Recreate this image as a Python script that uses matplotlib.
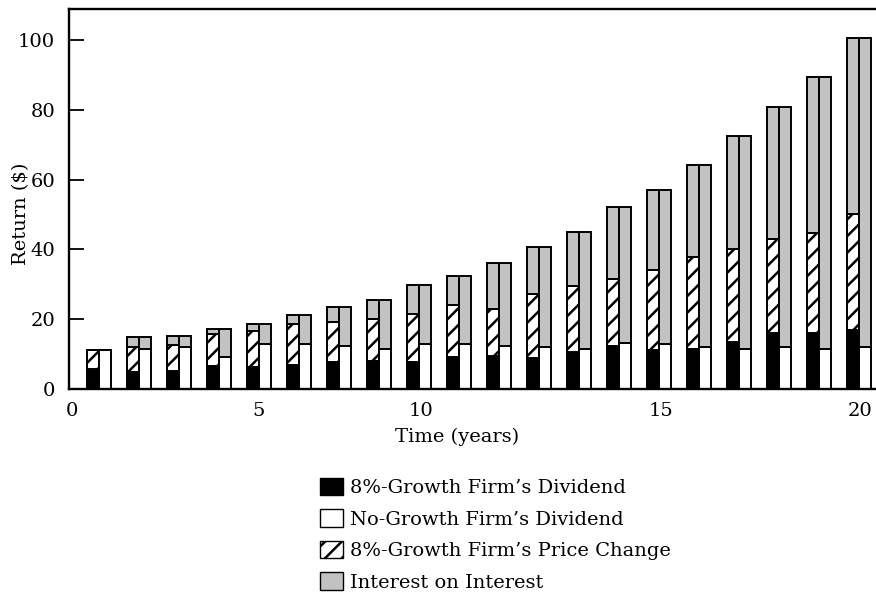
import matplotlib
matplotlib.use("Agg")
import matplotlib.pyplot as plt
from matplotlib.patches import Patch
import numpy as np

# ---- data ----
years = list(range(1, 21))
growth_dividend = [5.6, 4.9, 5.1, 6.6, 6.2, 7.0, 7.6, 8.1, 7.8, 9.2,
                   9.6, 8.8, 10.7, 12.3, 11.1, 11.5, 13.5, 16.1, 16.1, 16.9]
growth_price_change = [5.7, 7.2, 7.6, 9.2, 10.5, 11.6, 11.6, 12.1, 13.6, 15.0,
                       13.2, 18.5, 18.8, 19.3, 23.1, 26.3, 26.7, 26.9, 28.7, 33.3]
nogrowth_dividend = [11.3, 11.4, 12.1, 9.2, 12.8, 12.8, 12.4, 11.4, 12.8, 12.8,
                     12.4, 11.9, 11.4, 13.2, 12.8, 12.1, 11.5, 12.1, 11.5, 12.1]
total_return = [11.3, 14.8, 15.2, 17.3, 18.6, 21.2, 23.5, 25.4, 29.7, 32.4,
                36.2, 40.7, 44.9, 52.2, 57.1, 64.2, 72.4, 80.9, 89.5, 100.7]
y_ticks = [0, 20, 40, 60, 80, 100]
x_tick_labels = ["0", "5", "10", "15", "20"]
x_tick_pos = [0.33, 5, 9.05, 15.05, 20.02]
legend_labels = ["8%-Growth Firm\u2019s Dividend", "No-Growth Firm\u2019s Dividend",
                 "8%-Growth Firm\u2019s Price Change", "Interest on Interest"]

plt.rcParams['font.family'] = ['DejaVu Serif']
plt.rcParams['hatch.linewidth'] = 1.8

FS = 14
fig = plt.figure(figsize=(8.76, 5.94), dpi=100)
ax = fig.add_axes([69/876, 1 - 389/594, 807/876, 380/594])

x = np.array(years, dtype=float)
gd = np.array(growth_dividend)
gp = np.array(growth_price_change)
nd = np.array(nogrowth_dividend)
tot = np.array(total_return)

w = 0.3
gray = '#c2c2c2'
lw = 1.4
xl = x - w / 2
xr = x + w / 2
# left bar: growth firm
ax.bar(xl, gd, width=w, color='black', edgecolor='black', linewidth=lw)
ax.bar(xl, gp, width=w, bottom=gd, color='white', edgecolor='black', hatch='//', linewidth=lw)
ax.bar(xl, tot - gd - gp, width=w, bottom=gd + gp, color=gray, edgecolor='black', linewidth=lw)
# right bar: no-growth firm
ax.bar(xr, nd, width=w, color='white', edgecolor='black', linewidth=lw)
ax.bar(xr, tot - nd, width=w, bottom=nd, color=gray, edgecolor='black', linewidth=lw)

ax.set_xlim(0.25, 20.425)
ax.set_ylim(0, 108.9)
ax.set_yticks(y_ticks)
ax.set_yticklabels([str(t) for t in y_ticks], fontsize=FS)
ax.set_xticks(x_tick_pos)
ax.set_xticklabels(x_tick_labels, fontsize=FS)
ax.tick_params(axis='y', direction='in', length=11, width=1.3, pad=10)
ax.tick_params(axis='x', length=0, pad=9)
for s in ['left', 'bottom', 'top']:
    ax.spines[s].set_linewidth(1.7)
ax.spines['right'].set_visible(False)

ax.set_xlabel("Time (years)", fontsize=FS)
ax.xaxis.set_label_coords(0.481, -0.103)
ax.xaxis.label.set_verticalalignment('top')
ax.set_ylabel("Return ($)", fontsize=FS)
ax.yaxis.set_label_coords(-0.048, 0.46)

handles = [Patch(facecolor='black', edgecolor='black'),
           Patch(facecolor='white', edgecolor='black'),
           Patch(facecolor='white', edgecolor='black', hatch='//'),
           Patch(facecolor=gray, edgecolor='black')]
fig.legend(handles, legend_labels, loc='upper left',
           bbox_to_anchor=(320/876, 1 - 478/594), frameon=False, fontsize=FS,
           handlelength=1.2, handleheight=1.0, handletextpad=0.36,
           labelspacing=0.62, borderaxespad=0, borderpad=0)

fig.savefig("out.png", dpi=100)
